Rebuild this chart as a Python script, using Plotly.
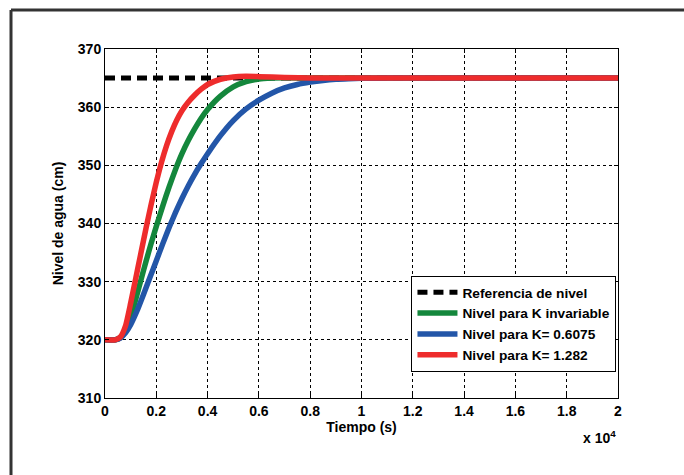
import plotly.graph_objects as go

# ---- data ----
t_ref = [0, 20000]
y_ref = [365, 365]

t_green = [0, 400, 600, 800, 1000, 1200, 1400, 1600, 1800, 2000, 2250, 2500, 2750, 3000, 3250,
           3500, 3750, 4000, 4500, 5000, 5500, 6000, 6500, 7000, 8000, 20000]
y_green = [320, 320, 320.4, 321.6, 323.8, 327.0, 330.3, 333.5, 336.6, 339.5, 343.0, 346.3, 349.3,
           352.0, 354.3, 356.3, 358.1, 359.6, 361.9, 363.5, 364.4, 364.85, 365.0, 365.05, 365.0, 365.0]

t_blue = [0, 400, 600, 800, 1000, 1250, 1500, 1750, 2000, 2250, 2500, 2750, 3000, 3250, 3500,
          3750, 4000, 4500, 5000, 5500, 6000, 6500, 7000, 7500, 8000, 8500, 9000, 9500, 10000,
          11000, 20000]
y_blue = [320, 320, 320.3, 321.2, 322.6, 325.0, 327.8, 330.7, 333.6, 336.5, 339.3, 341.9, 344.3,
          346.5, 348.5, 350.3, 352.0, 355.1, 357.7, 359.7, 361.2, 362.4, 363.3, 363.9, 364.3,
          364.6, 364.8, 364.9, 364.97, 365.0, 365.0]

t_red = [0, 400, 600, 800, 1000, 1200, 1400, 1600, 1800, 2000, 2200, 2400, 2600, 2800, 3000,
         3250, 3500, 3750, 4000, 4500, 5000, 5500, 6000, 7000, 8000, 20000]
y_red = [320, 320, 320.5, 322.4, 326.3, 330.6, 334.9, 339.2, 343.3, 347.1, 350.5, 353.4, 355.8,
         357.8, 359.4, 360.9, 362.1, 363.1, 363.9, 364.8, 365.2, 365.3, 365.25, 365.1, 365.0, 365.0]

names = ["Referencia de nivel", "Nivel para K invariable", "Nivel para K= 0.6075", "Nivel para K= 1.282"]

x_tickvals = [0, 2000, 4000, 6000, 8000, 10000, 12000, 14000, 16000, 18000, 20000]
x_ticktext = ["0", "0.2", "0.4", "0.6", "0.8", "1", "1.2", "1.4", "1.6", "1.8", "2"]
y_tickvals = [310, 320, 330, 340, 350, 360, 370]

FONT = "Liberation Sans"

fig = go.Figure()
fig.add_trace(go.Scatter(x=t_ref, y=y_ref, mode="lines", name=names[0],
                         line=dict(color="black", width=5, dash="10px,6px")))
fig.add_trace(go.Scatter(x=t_green, y=y_green, mode="lines", name=names[1],
                         line=dict(color="#14873C", width=5.5, shape="spline", smoothing=0.5)))
fig.add_trace(go.Scatter(x=t_blue, y=y_blue, mode="lines", name=names[2],
                         line=dict(color="#2356A8", width=5.5, shape="spline", smoothing=0.5)))
fig.add_trace(go.Scatter(x=t_red, y=y_red, mode="lines", name=names[3],
                         line=dict(color="#EE2C2C", width=5.5, shape="spline", smoothing=0.5)))

axis_common = dict(showline=True, linecolor="black", linewidth=1, mirror="ticks",
                   ticks="inside", ticklen=4, tickcolor="black",
                   showgrid=True, gridcolor="black", gridwidth=1, griddash="dot",
                   zeroline=False,
                   tickfont=dict(family=FONT, size=14, color="black", weight="bold"))

fig.update_xaxes(range=[0, 20000], tickvals=x_tickvals, ticktext=x_ticktext,
                 title=dict(text="Tiempo (s)", standoff=2,
                            font=dict(family=FONT, size=14, color="black", weight="bold")),
                 **axis_common)
fig.update_yaxes(range=[310, 370], tickvals=y_tickvals,
                 title=dict(text="Nivel de agua (cm)", standoff=10,
                            font=dict(family=FONT, size=14, color="black", weight="bold")),
                 **axis_common)

fig.update_layout(
    width=684, height=475,
    margin=dict(l=105, r=66, t=49, b=77),
    paper_bgcolor="white", plot_bgcolor="white",
    showlegend=True,
    legend=dict(x=0.997, xanchor="right", y=0.35, yanchor="top",
                bgcolor="white", bordercolor="black", borderwidth=1,
                font=dict(family=FONT, size=13.7, color="black", weight="bold"),
                tracegroupgap=0, itemwidth=40),
    font=dict(family=FONT, color="black"),
)

# x 10^4 exponent label
fig.add_annotation(xref="paper", yref="paper", x=1.0, y=-0.08, xanchor="right", yanchor="top",
                   text="x 10<sup>4</sup>", showarrow=False,
                   font=dict(family=FONT, size=14, color="black", weight="bold"))

# outer frame (left and top lines)
fx = (11 - 105) / 513
fy_top = (398 - 10) / 349
fy_bot = (398 - 480) / 349
fx_right = (690 - 105) / 513
fig.add_shape(type="line", xref="paper", yref="paper", x0=fx, x1=fx, y0=fy_bot, y1=fy_top,
              line=dict(color="#333333", width=3))
fig.add_shape(type="line", xref="paper", yref="paper", x0=fx, x1=fx_right, y0=fy_top, y1=fy_top,
              line=dict(color="#333333", width=3))

fig.write_html("out.html")
